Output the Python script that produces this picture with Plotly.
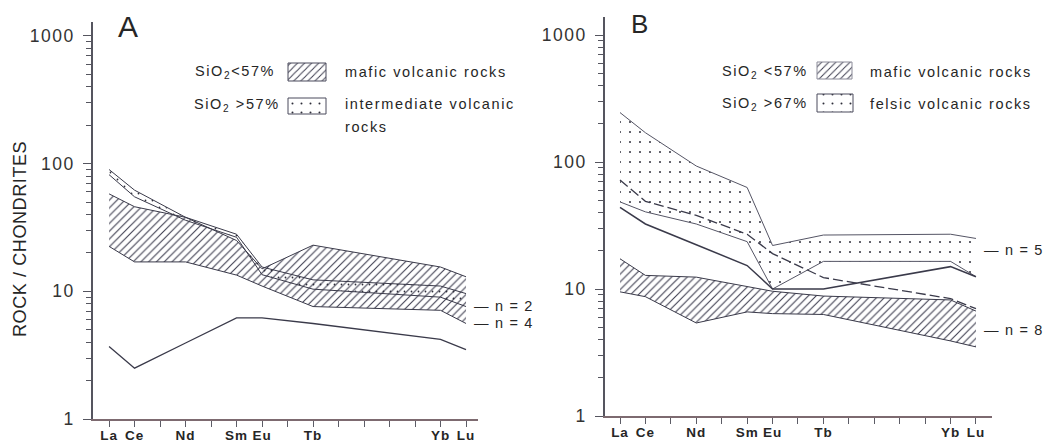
import math
import plotly.graph_objects as go

W, H = 1043, 442

# Rare earth elements plotted, with their atomic numbers (x positions)
REE = ['La', 'Ce', 'Nd', 'Sm', 'Eu', 'Tb', 'Yb', 'Lu']
Z = [57, 58, 60, 62, 63, 65, 70, 71]
OTHER_Z = [59, 61, 64, 66, 67, 68, 69]  # Pr, Pm, Gd, Dy, Ho, Er, Tm (ticks only)

# Panel A: chondrite-normalised patterns
mafic_a_upper = [58, 46, 38, 25, 15, 23, 15.5, 13]
mafic_a_lower = [22.5, 17, 17, 13.4, 11, 7.6, 7.1, 5.6]
inter_a_upper = [90, 62, 38, 28, 15.5, 12.3, 11, 9.6]
inter_a_lower = [82, 55, 36, 26.5, 13.5, 10.4, 9.0, 7.6]
single_a = [3.7, 2.5, 3.94, 6.2, 6.2, 5.6, 4.2, 3.5]

# Panel B: chondrite-normalised patterns
felsic_b_upper = [245, 170, 93, 63, 22, 26.6, 27, 25]
felsic_b_lower = [48.5, 40.5, 32.5, 23.6, 10, 16.5, 16.5, 12.5]
solid_b = [44, 32.5, 22.3, 15.3, 10, 10, 15, 12.5]
dashed_b = [72, 49, 38, 27, 19, 12.3, 8.4, 7]
mafic_b_upper = [17.3, 12.8, 12.4, 10.4, 9.6, 8.8, 8.2, 6.7]
mafic_b_lower = [9.5, 8.7, 5.4, 6.6, 6.4, 6.3, 3.9, 3.5]

Y_TICKS = [1, 10, 100, 1000]
Y_MINOR = [m * d for d in (1, 10, 100) for m in range(2, 10)]

INK = '#3a3a4a'
TEXT = '#262626'
HATCH = dict(shape='/', fgcolor='#3e3e50', bgcolor='rgba(0,0,0,0)', size=5.5, solidity=0.2)
DOTS = dict(shape='.', fgcolor='#2e2e3a', bgcolor='rgba(0,0,0,0)', size=10, solidity=0.03)


def ls(text, px):
    return f'<span style="letter-spacing:{px}px">{text}</span>'


fig = go.Figure()


def band(xa, ya, upper, lower, pattern, edge_w=1.0, edge_c=INK):
    fig.add_trace(go.Scatter(
        x=Z + Z[::-1], y=upper + lower[::-1], xaxis=xa, yaxis=ya,
        mode='none', fill='toself', fillcolor='rgba(0,0,0,0)',
        fillpattern=pattern, hoverinfo='skip', showlegend=False))
    for vals in (upper, lower):
        fig.add_trace(go.Scatter(
            x=Z, y=vals, xaxis=xa, yaxis=ya, mode='lines',
            line=dict(color=edge_c, width=edge_w), showlegend=False))


def line(xa, ya, vals, width=1.2, dash='solid', color=INK):
    fig.add_trace(go.Scatter(
        x=Z, y=vals, xaxis=xa, yaxis=ya, mode='lines',
        line=dict(color=color, width=width, dash=dash), showlegend=False))


# Panel A
band('x', 'y', mafic_a_upper, mafic_a_lower, HATCH)
band('x', 'y', inter_a_upper, inter_a_lower, dict(DOTS, size=7, solidity=0.05))
line('x', 'y', single_a, width=1.3)

# Panel B
band('x2', 'y2', mafic_b_upper, mafic_b_lower, HATCH)
band('x2', 'y2', felsic_b_upper, felsic_b_lower, DOTS, edge_w=1.0, edge_c='#555565')
line('x2', 'y2', solid_b, width=1.5)
line('x2', 'y2', dashed_b, width=1.3, dash='10px,4px')


# Legend swatches drawn in a full-figure pixel frame (x3/y3)
def swatch(x0, y0, x1, y1, pattern, border):
    fig.add_trace(go.Scatter(
        x=[x0, x1, x1, x0, x0], y=[y0, y0, y1, y1, y0], xaxis='x3', yaxis='y3',
        mode='lines', fill='toself', fillcolor='rgba(0,0,0,0)', fillpattern=pattern,
        line=dict(color=border, width=1), hoverinfo='skip', showlegend=False))


swatch(288, 63, 326, 81, dict(HATCH, size=5), '#4a4a5c')
swatch(288, 98, 326, 114, dict(DOTS, size=9, solidity=0.04), '#4a4a5c')
swatch(817, 62, 852, 79, dict(HATCH, size=5), '#8a8a98')
swatch(817, 94, 853, 112, dict(DOTS, size=9, solidity=0.04), '#4a4a5c')

axis_common_x = dict(
    showline=True, linecolor='#7d6a70', linewidth=1.5, ticks='outside', ticklen=6,
    tickwidth=1.1, tickcolor='#5c5c66', tickvals=Z, ticktext=[ls(f'<b>{s}</b>', 1) for s in REE],
    tickfont=dict(family='Liberation Sans, Arial', size=13.5, color=TEXT),
    minor=dict(tickvals=OTHER_Z, ticklen=6, ticks='outside', tickwidth=1.1, tickcolor='#5c5c66', showgrid=False),
    ticklabelstandoff=-3, showgrid=False, zeroline=False, fixedrange=True)
axis_common_y = dict(
    type='log', showline=True, linecolor='#55555f', linewidth=1.5, ticks='outside',
    ticklen=8, tickwidth=1.1, tickcolor='#55555f', tickvals=Y_TICKS,
    ticktext=[ls(str(v), 1.5) for v in Y_TICKS],
    tickfont=dict(family='Liberation Sans, Arial', size=17.5, color='#333333'),
    minor=dict(tickvals=Y_MINOR, ticklen=5, ticks='outside', tickwidth=1, tickcolor='#55555f', showgrid=False),
    ticklabelstandoff=5, showgrid=False, zeroline=False, fixedrange=True)

fig.update_layout(
    width=W, height=H, margin=dict(l=0, r=0, t=0, b=0),
    paper_bgcolor='white', plot_bgcolor='rgba(0,0,0,0)', template='none',
    xaxis=dict(axis_common_x, domain=[93 / W, 478 / W], range=[56.37, 71.47], anchor='y'),
    yaxis=dict(axis_common_y, domain=[1 - 419 / H, 1 - 22 / H], range=[0, (419 - 22) / 127.67], anchor='x'),
    xaxis2=dict(axis_common_x, domain=[605 / W, 992 / W], range=[56.41, 71.63], anchor='y2'),
    yaxis2=dict(axis_common_y, domain=[1 - 416 / H, 1 - 17 / H], range=[0, (416 - 17) / 127.0], anchor='x2'),
    xaxis3=dict(domain=[0, 1], range=[0, W], visible=False, anchor='y3', fixedrange=True),
    yaxis3=dict(domain=[0, 1], range=[H, 0], visible=False, anchor='x3', fixedrange=True),
    showlegend=False,
)

ann = []


def text(x, y, s, size=14.5, anchor='left', spacing=1.6, angle=0, family='Liberation Sans, Arial'):
    ann.append(dict(x=x, y=y, xref='x3', yref='y3', text=ls(s, spacing), showarrow=False,
                    xanchor=anchor, yanchor='middle', textangle=angle,
                    font=dict(family=family, size=size, color=TEXT)))


# Panel letters
text(128, 26, 'A', size=30, anchor='center', spacing=0)
text(639, 24, 'B', size=26, anchor='center', spacing=0)

# Axis title
text(20, 239, 'ROCK / CHONDRITES', size=18, anchor='center', spacing=0.6, angle=-90)

# Legend A
text(193, 72, 'SiO<sub>2</sub>&lt;57%', size=14.5)
text(343, 72, 'mafic volcanic rocks')
text(192, 105, 'SiO<sub>2</sub> &gt;57%', size=14.5)
text(343, 104, 'intermediate volcanic')
text(343, 127, 'rocks')

# Legend B
text(720, 72, 'SiO<sub>2</sub> &lt;57%', size=14.5)
text(868, 72, 'mafic volcanic rocks')
text(720, 104, 'SiO<sub>2</sub> &gt;67%', size=14.5)
text(868, 104, 'felsic volcanic rocks')

# Sample counts
text(472, 306, '— n = 2', spacing=1.2)
text(472, 323, '— n = 4', spacing=1.2)
text(982, 250, '— n = 5', spacing=1.2)
text(982, 330, '— n = 8', spacing=1.2)

fig.update_layout(annotations=ann)
fig.write_html('out.html')
